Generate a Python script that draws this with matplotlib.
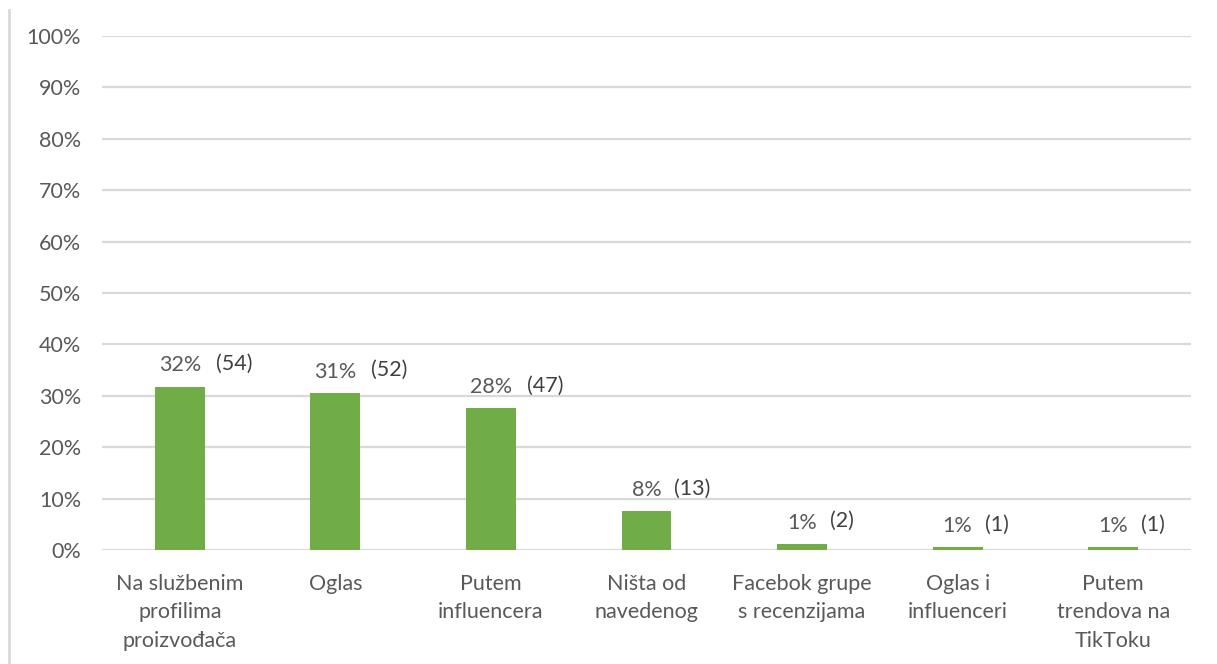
import matplotlib.pyplot as plt
from matplotlib.lines import Line2D

categories = ['Na službenim\nprofilima\nproizvođača', 'Oglas', 'Putem\ninfluencera',
              'Ništa od\nnavedenog', 'Facebok grupe\ns recenzijama', 'Oglas i\ninfluenceri',
              'Putem\ntrendova na\nTikToku']
percents = [31.8, 30.6, 27.6, 7.6, 1.2, 0.6, 0.6]
pct_labels = ['32%', '31%', '28%', '8%', '1%', '1%', '1%']
counts = [54, 52, 47, 13, 2, 1, 1]
y_ticks = [0, 10, 20, 30, 40, 50, 60, 70, 80, 90, 100]

GREEN = '#70AD47'
TEXT = '#595959'
GRID = '#D9D9D9'
FS = 15.5

plt.rcParams['font.family'] = ['Lato', 'DejaVu Sans']

fig = plt.figure(figsize=(12.17, 6.64), dpi=100)
ax = fig.add_axes([102 / 1217, 1 - 550 / 664, (1191 - 102) / 1217, (550 - 36) / 664])

x = list(range(len(categories)))
ax.bar(x, percents, width=0.32, color=GREEN, zorder=3)

ax.set_xlim(-0.5, len(categories) - 0.5)
ax.set_ylim(0, 100)
ax.set_yticks(y_ticks)
ax.set_yticklabels([f'{t}%' for t in y_ticks])
ax.yaxis.grid(True, color=GRID, linewidth=1.6, zorder=0)
ax.set_xticks(x)
ax.set_xticklabels(categories, linespacing=1.55, va='top')
ax.tick_params(axis='y', length=0, pad=15, labelsize=FS, labelcolor=TEXT)
ax.tick_params(axis='x', length=0, pad=17, labelsize=FS, labelcolor=TEXT)
for s in ax.spines.values():
    s.set_visible(False)

# value labels: percentage centred over the bar, count to its right
for xi, h, p, c in zip(x, percents, pct_labels, counts):
    ax.annotate(p, (xi, h), xytext=(0, 8), textcoords='offset points',
                ha='center', va='bottom', fontsize=FS, color=TEXT)
    off = 26 if len(p) == 3 else 20
    ax.annotate(f'({c})', (xi, h), xytext=(off, 9), textcoords='offset points',
                ha='left', va='bottom', fontsize=FS, color='#404040')

# thin frame line on the left edge
fig.add_artist(Line2D([9 / 1217, 9 / 1217], [0, 1 - 10 / 664], color=GRID,
                      linewidth=2, transform=fig.transFigure))

fig.savefig('out.png', dpi=100)
